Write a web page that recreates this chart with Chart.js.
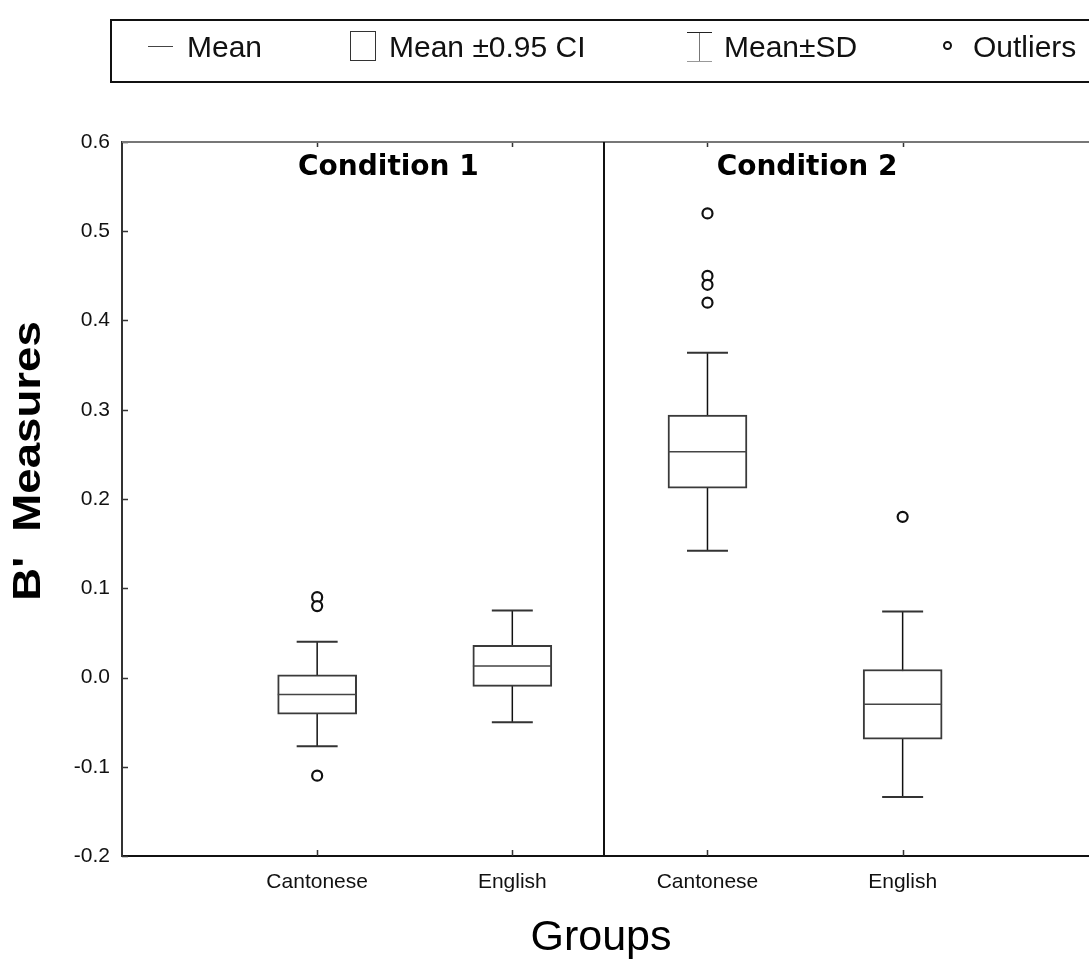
<!DOCTYPE html>
<html>
<head>
<meta charset="utf-8">
<title>B' Measures by Group</title>
<script src="https://cdn.jsdelivr.net/npm/chart.js@4.4.1/dist/chart.umd.min.js"></script>
<style>
  html, body { margin: 0; padding: 0; background: #fff; overflow: hidden; }
  #wrap { position: relative; width: 1105px; height: 961px; }
  #chart { position: absolute; left: 0; top: 0; }
  .legend-box { position: absolute; left: 110px; top: 19px; width: 1000px; height: 60px; border: 2px solid #111; }
  .lg { position: absolute; top: 32px; font: 30px "Liberation Sans", Arial, sans-serif; line-height: 30px; color: #111; white-space: nowrap; }
  .sym { position: absolute; box-sizing: border-box; }
</style>
</head>
<body>
<div id="wrap">
  <canvas id="chart" width="1105" height="961"></canvas>
  <div class="legend-box"></div>
  <div class="sym" style="left:148px; top:46px; width:25px; height:0; border-top:1.5px solid #444;"></div>
  <span class="lg" style="left:187px;">Mean</span>
  <div class="sym" style="left:350px; top:31px; width:26px; height:30px; border:1.5px solid #333;"></div>
  <span class="lg" style="left:389px;">Mean ±0.95 CI</span>
  <div class="sym" style="left:687px; top:32px; width:25px; height:0; border-top:1.5px solid #222;"></div>
  <div class="sym" style="left:699px; top:33px; width:0; height:28px; border-left:1.5px solid #777;"></div>
  <div class="sym" style="left:687px; top:61px; width:25px; height:0; border-top:1.5px solid #999;"></div>
  <span class="lg" style="left:724px;">Mean±SD</span>
  <div class="sym" style="left:943px; top:41px; width:9px; height:9px; border:2px solid #111; border-radius:50%;"></div>
  <span class="lg" style="left:973px;">Outliers</span>
</div>
<script>
// groups (x positions 1..4), two per condition
const groups = ['Cantonese', 'English', 'Cantonese', 'English'];
const conditions = ['Condition 1', 'Condition 2'];

// B' measures
const means  = [-0.019, 0.013, 0.253, -0.030];
const ciLow  = [-0.041, -0.010, 0.212, -0.069];
const ciHigh = [0.003, 0.036, 0.294, 0.009];
const sdLow  = [-0.077, -0.050, 0.142, -0.134];
const sdHigh = [0.040, 0.075, 0.364, 0.074];
const outliers = [
    [0.09, 0.08, -0.11],
    [],
    [0.52, 0.45, 0.44, 0.42],
    [0.18]
];

const yTicks = { min: -0.2, max: 0.6, step: 0.1 };

// drawing sizes (in x-axis units)
const BOX_HALF = 0.202;
const CAP_HALF = 0.105;
const DIVIDER_X = 2.47;
const CONDITION_X = [1.365, 3.51];

Chart.defaults.font.family = '"Liberation Sans", Arial, sans-serif';
Chart.defaults.color = '#111';

// build segment lists, null breaks the line
const whiskerData = [];
const capData = [];
const meanData = [];
groups.forEach((g, i) => {
    const x = i + 1;
    whiskerData.push({ x, y: sdLow[i] }, { x, y: sdHigh[i] }, { x, y: null });
    [sdLow[i], sdHigh[i]].forEach(v => {
        capData.push({ x: x - CAP_HALF, y: v }, { x: x + CAP_HALF, y: v }, { x, y: null });
    });
    meanData.push({ x: x - BOX_HALF, y: means[i] }, { x: x + BOX_HALF, y: means[i] }, { x, y: null });
});
const boxData = groups.map((g, i) => ({ x: i + 1, y: [ciLow[i], ciHigh[i]] }));
const outlierData = outliers.flatMap((list, i) => list.map(v => ({ x: i + 1, y: v })));

// frame extras: inside ticks, top line, divider, condition labels, axis titles
const framePlugin = {
    id: 'frame',
    afterDraw(chart) {
        const { ctx, chartArea: a, scales: { x, y } } = chart;
        ctx.save();
        ctx.strokeStyle = '#333';
        ctx.lineWidth = 1.5;
        ctx.beginPath();
        y.ticks.forEach(t => {
            const py = Math.round(y.getPixelForValue(t.value)) + 0.5;
            ctx.moveTo(a.left, py);
            ctx.lineTo(a.left + 6, py);
        });
        groups.forEach((g, i) => {
            const px = Math.round(x.getPixelForValue(i + 1)) + 0.5;
            ctx.moveTo(px, a.bottom);
            ctx.lineTo(px, a.bottom - 6);
            ctx.moveTo(px, a.top);
            ctx.lineTo(px, a.top + 5);
        });
        ctx.stroke();

        // top frame line
        ctx.strokeStyle = '#777';
        ctx.lineWidth = 2;
        ctx.beginPath();
        ctx.moveTo(a.left, a.top);
        ctx.lineTo(a.right, a.top);
        ctx.stroke();

        // condition divider
        const dx = Math.round(x.getPixelForValue(DIVIDER_X));
        ctx.strokeStyle = '#111';
        ctx.lineWidth = 2;
        ctx.beginPath();
        ctx.moveTo(dx, a.top);
        ctx.lineTo(dx, a.bottom);
        ctx.stroke();

        ctx.fillStyle = '#000';
        ctx.textAlign = 'center';
        ctx.textBaseline = 'alphabetic';
        ctx.font = 'bold 28px "DejaVu Sans", Verdana, sans-serif';
        conditions.forEach((c, i) => {
            ctx.fillText(c, x.getPixelForValue(CONDITION_X[i]), 175);
        });

        // x title
        ctx.font = '43px "Liberation Sans", Arial, sans-serif';
        ctx.fillText('Groups', 601, 950);

        // y title
        ctx.translate(40, 461);
        ctx.rotate(-Math.PI / 2);
        ctx.scale(1.2, 1);
        ctx.font = 'bold 38px "Liberation Sans", Arial, sans-serif';
        ctx.fillText("B'  Measures", 0, 0);
        ctx.restore();
    }
};

new Chart(document.getElementById('chart'), {
    type: 'scatter',
    data: {
        datasets: [
            {
                type: 'line',
                label: 'SD whiskers',
                data: whiskerData,
                borderColor: '#111',
                borderWidth: 1.5,
                pointRadius: 0,
                spanGaps: false,
                order: 4
            },
            {
                type: 'line',
                label: 'SD caps',
                data: capData,
                borderColor: '#333',
                borderWidth: 2,
                pointRadius: 0,
                spanGaps: false,
                order: 3
            },
            {
                type: 'bar',
                label: 'Mean ±0.95 CI',
                data: boxData,
                backgroundColor: '#fff',
                borderColor: '#3a3a3a',
                borderWidth: 2,
                borderSkipped: false,
                barThickness: 79,
                order: 2
            },
            {
                type: 'line',
                label: 'Mean',
                data: meanData,
                borderColor: '#444',
                borderWidth: 1.5,
                pointRadius: 0,
                spanGaps: false,
                order: 1
            },
            {
                type: 'scatter',
                label: 'Outliers',
                data: outlierData,
                pointRadius: 5,
                pointBorderWidth: 2.2,
                borderColor: '#111',
                backgroundColor: '#fff',
                order: 0
            }
        ]
    },
    options: {
        responsive: false,
        devicePixelRatio: 1,
        animation: false,
        events: [],
        layout: { padding: { top: 142, right: 3, bottom: 0, left: 0 } },
        plugins: {
            legend: { display: false },
            tooltip: { enabled: false }
        },
        scales: {
            x: {
                type: 'linear',
                min: 0,
                max: 5,
                offset: false,
                grid: { display: false, drawTicks: false },
                border: { color: '#111', width: 2 },
                ticks: {
                    stepSize: 1,
                    autoSkip: false,
                    maxRotation: 0,
                    padding: 14,
                    font: { size: 21 },
                    color: '#111',
                    callback: v => groups[v - 1] || ''
                },
                afterFit: s => {
                    s.height = 105;
                    s.paddingLeft = 0;
                    s.paddingRight = 0;
                }
            },
            y: {
                type: 'linear',
                min: yTicks.min,
                max: yTicks.max,
                grid: { display: false, drawTicks: false },
                border: { color: '#333', width: 2 },
                ticks: {
                    stepSize: yTicks.step,
                    padding: 12,
                    font: { size: 21 },
                    color: '#111',
                    callback: v => v.toFixed(1)
                },
                afterFit: s => { s.width = 122; }
            }
        }
    },
    plugins: [framePlugin]
});
</script>
</body>
</html>
